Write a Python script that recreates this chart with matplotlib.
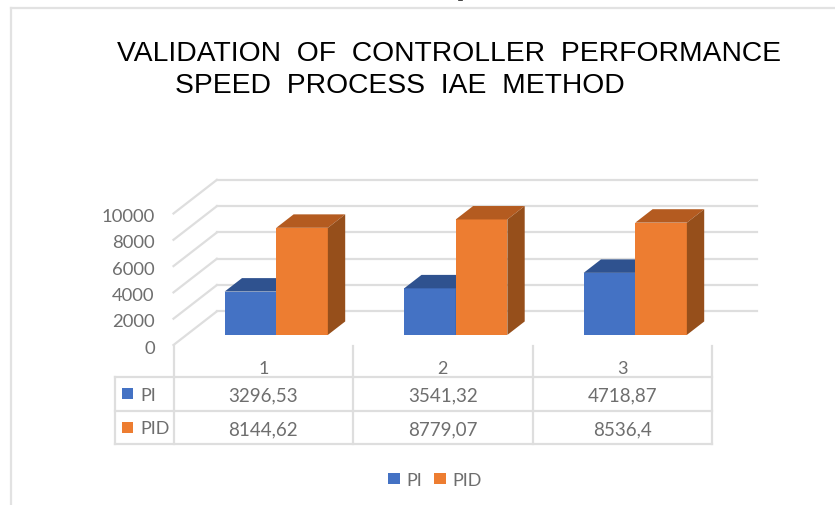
# 3D-looking clustered bars with a data table underneath, Excel style

from matplotlib import pyplot as plt
from matplotlib.patches import Polygon, Rectangle
from matplotlib.transforms import ScaledTranslation, blended_transform_factory

W, H = 835, 506

categories = ["1", "2", "3"]
pi_values = [3296.53, 3541.32, 4718.87]
pid_values = [8144.62, 8779.07, 8536.4]
y_ticks = [0, 2000, 4000, 6000, 8000, 10000]

BLUE, BLUE_TOP = "#4472C4", "#2F528F"
ORANGE, ORANGE_TOP, ORANGE_SIDE = "#ED7D31", "#B45B20", "#964F1B"
GRID = "#DEDEDE"
TEXT = "#6E6E6E"

# depth of the floor, in data units (categories / value)
DEPTH_X = 0.2415
DEPTH_Y = 2557
BAR_W = 0.2875

plt.rcParams["font.family"] = ["Lato", "DejaVu Sans"]

fig = plt.figure(figsize=(W / 100, H / 100), dpi=100)

# page axes in pixels, for frame, title, table and legend
page = fig.add_axes([0, 0, 1, 1])
page.set_xlim(0, W)
page.set_ylim(H, 0)
page.axis("off")

ax = fig.add_axes([173.5 / W, (H - 346) / H, (712 - 173.5) / W, 131.5 / H])
ax.set_xlim(0, 3)
ax.set_ylim(0, 10000)
ax.patch.set_visible(False)
for s in ax.spines.values():
    s.set_visible(False)
ax.set_yticks(y_ticks)
ax.set_xticks([i + 0.5 for i in range(3)])
ax.set_xticklabels(categories)
ax.tick_params(axis="y", length=0, pad=13.5, labelsize=13.3, labelcolor=TEXT)
ax.tick_params(axis="x", length=0, pad=10.5, labelsize=13, labelcolor=TEXT)
# tick labels sit a little lower than the tick position
nudge = ScaledTranslation(0, -1 / 100, fig.dpi_scale_trans)
for lab in ax.get_yticklabels():
    lab.set_transform(lab.get_transform() + nudge)

# back wall lines and side wall diagonals
right = (757 - 173.5) / 179.5
for t in y_ticks:
    ax.plot([0, DEPTH_X], [t, t + DEPTH_Y], color=GRID, lw=1.6, clip_on=False, zorder=1)
    ax.plot([DEPTH_X, right], [t + DEPTH_Y, t + DEPTH_Y], color=GRID, lw=1.6, clip_on=False, zorder=1)


def bar3d(x, value, face, top, side):
    # front face sits 30% into the floor depth, the bar is 40% deep
    x0 = x + 0.3 * DEPTH_X
    y0 = 0.3 * DEPTH_Y
    dx = 0.4 * DEPTH_X
    dy = 0.4 * DEPTH_Y
    x1 = x0 + BAR_W
    ax.bar(x0, value, BAR_W, bottom=y0, align="edge", color=face, clip_on=False, zorder=3)
    y1 = y0 + value
    ax.add_patch(Polygon([(x0, y1), (x1, y1), (x1 + dx, y1 + dy), (x0 + dx, y1 + dy)],
                         color=top, lw=0, clip_on=False, zorder=3))
    ax.add_patch(Polygon([(x1, y0), (x1 + dx, y0 + dy), (x1 + dx, y1 + dy), (x1, y1)],
                         color=side, lw=0, clip_on=False, zorder=3))


for i in range(3):
    mid = i + 0.5
    bar3d(mid - BAR_W, pi_values[i], BLUE, BLUE_TOP, BLUE_TOP)
    bar3d(mid, pid_values[i], ORANGE, ORANGE_TOP, ORANGE_SIDE)

# outer frame
page.plot([11, 11], [9, H], color="#E2E2E2", lw=1.6)
page.plot([11, W], [9, 9], color="#E2E2E2", lw=1.6)
# cropped bit of text at the very top of the screenshot
page.plot([459, 462], [0.5, 0.5], color="#222222", lw=1.2)

# title
page.text(117, 53.5, "VALIDATION  OF  CONTROLLER  PERFORMANCE", family="Liberation Sans",
          fontsize=20.3, color="black", va="center", ha="left")
page.text(175, 85.5, "SPEED  PROCESS  IAE  METHOD", family="Liberation Sans",
          fontsize=20.3, color="black", va="center", ha="left")

# data table
for y in [378, 411.5, 445]:
    page.plot([115, 712], [y, y], color=GRID, lw=1.6)
page.plot([115, 115], [378, 445], color=GRID, lw=1.6)
for x in [173.5, 353, 532.5, 712]:
    page.plot([x, x], [347, 445], color=GRID, lw=1.6)

mixed = blended_transform_factory(ax.transData, page.transData)
rows = [("PI", pi_values, BLUE, 396), ("PID", pid_values, ORANGE, 429.5)]
for name, vals, color, y in rows:
    page.add_patch(Rectangle((122, y - 7), 11, 11, color=color, lw=0))
    page.text(140, y, name, fontsize=13, color=TEXT, va="center", ha="left")
    for i, v in enumerate(vals):
        page.text(i + 0.5, y, str(v).replace(".", ","), transform=mixed, fontsize=13.5,
                  color=TEXT, va="center", ha="center")

# legend
page.add_patch(Rectangle((388, 474), 12, 11, color=BLUE, lw=0))
page.text(406, 481.5, "PI", fontsize=13, color=TEXT, va="center", ha="left")
page.add_patch(Rectangle((434, 474), 12, 11, color=ORANGE, lw=0))
page.text(452, 481.5, "PID", fontsize=13, color=TEXT, va="center", ha="left")

plt.savefig("out.png", dpi=100)
